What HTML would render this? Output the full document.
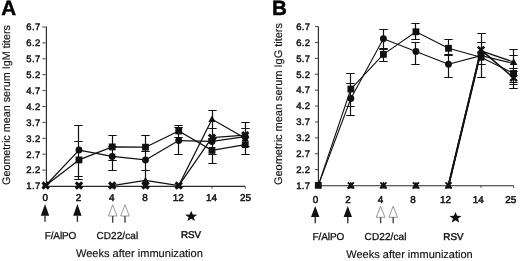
<!DOCTYPE html>
<html><head><meta charset="utf-8"><title>Figure</title>
<style>html,body{margin:0;padding:0;background:#fff}body{width:520px;height:261px;overflow:hidden;font-family:"Liberation Sans",sans-serif}</style>
</head><body>
<svg width="520" height="261" viewBox="0 0 520 261" text-rendering="geometricPrecision" style="display:block;opacity:0.999;will-change:transform;font-family:'Liberation Sans',sans-serif">
<rect width="520" height="261" fill="#fff"/>
<!-- panel A -->
<path d="M46.4 26.6V186.4H245.26" stroke="#2a2a2a" stroke-width="1.15" fill="none"/>
<path d="M42.3 186H45.7M42.3 170.1H45.7M42.3 154.2H45.7M42.3 138.3H45.7M42.3 122.4H45.7M42.3 106.5H45.7M42.3 90.6H45.7M42.3 74.7H45.7M42.3 58.8H45.7M42.3 42.9H45.7M42.3 27H45.7M78.96 186.4v2.2M112.22 186.4v2.2M145.48 186.4v2.2M178.74 186.4v2.2M212 186.4v2.2M245.26 186.4v2.2" stroke="#444" stroke-width="1" fill="none"/>
<path d="M78.5 125.5V176.5M74.3 125.5H82.7M74.3 176.5H82.7M78.5 141.5V179.5M74.3 141.5H82.7M74.3 179.5H82.7M112.5 135.5V160.5M108.3 135.5H116.7M108.3 160.5H116.7M112.5 146.5V170.5M108.3 146.5H116.7M108.3 170.5H116.7M145.5 135.5V151.5M141.3 135.5H149.7M141.3 151.5H149.7M145.5 151.5V170.5M141.3 151.5H149.7M141.3 170.5H149.7M145.5 170.5V186.5M141.3 170.5H149.7M141.3 186.5H149.7M178.5 125.5V137.5M174.3 125.5H182.7M174.3 137.5H182.7M178.5 127.5V154.5M174.3 127.5H182.7M174.3 154.5H182.7M212.5 110.5V128.5M208.3 110.5H216.7M208.3 128.5H216.7M212.5 128.5V154.5M208.3 128.5H216.7M208.3 154.5H216.7M212.5 138.5V163.5M208.3 138.5H216.7M208.3 163.5H216.7M245.5 122.5V146.5M241.3 122.5H249.7M241.3 146.5H249.7M245.5 128.5V154.5M241.3 128.5H249.7M241.3 154.5H249.7" stroke="#111" stroke-width="1.2" fill="none"/>
<path d="M45.7 185.52L78.96 150.07L112.22 156.43L145.48 159.92L178.74 140.53L212 141.48L245.26 136.71" stroke="#111" stroke-width="1.25" fill="none" stroke-linejoin="round"/>
<path d="M45.7 185.52L78.96 159.92L112.22 146.89L145.48 147.2L178.74 130.99L212 150.38L245.26 144.66" stroke="#111" stroke-width="1.25" fill="none" stroke-linejoin="round"/>
<path d="M112.22 185.52L145.48 180.28M145.48 180.28L178.74 185.52M178.74 185.52L212 119.22M212 119.22L245.26 138.3" stroke="#111" stroke-width="1.25" fill="none" stroke-linejoin="round"/>
<path d="M178.74 185.52L212 137.66M212 137.66L245.26 135.12" stroke="#111" stroke-width="1.25" fill="none" stroke-linejoin="round"/>
<g fill="#111"><circle cx="78.96" cy="150.07" r="3.45"/><circle cx="112.22" cy="156.43" r="3.45"/><circle cx="145.48" cy="159.92" r="3.45"/><circle cx="178.74" cy="140.53" r="3.45"/><circle cx="212" cy="141.48" r="3.45"/><circle cx="245.26" cy="136.71" r="3.45"/><rect x="75.56" y="156.52" width="6.8" height="6.8"/><rect x="108.82" y="143.49" width="6.8" height="6.8"/><rect x="142.08" y="143.8" width="6.8" height="6.8"/><rect x="175.34" y="127.59" width="6.8" height="6.8"/><rect x="208.6" y="146.98" width="6.8" height="6.8"/><rect x="241.86" y="141.26" width="6.8" height="6.8"/><path d="M145.48 176.68L149.08 183.16H141.88Z"/><path d="M212 115.62L215.6 122.1H208.4Z"/><path d="M245.26 134.7L248.86 141.18H241.66Z"/></g>
<path d="M42.55 182.37L48.85 188.67M48.85 182.37L42.55 188.67" stroke="#111" stroke-width="3.0" fill="none"/>
<path d="M75.81 182.37L82.11 188.67M82.11 182.37L75.81 188.67" stroke="#111" stroke-width="3.0" fill="none"/>
<path d="M109.07 182.37L115.37 188.67M115.37 182.37L109.07 188.67" stroke="#111" stroke-width="3.0" fill="none"/>
<path d="M142.33 182.37L148.63 188.67M148.63 182.37L142.33 188.67" stroke="#111" stroke-width="3.0" fill="none"/>
<path d="M175.59 182.37L181.89 188.67M181.89 182.37L175.59 188.67" stroke="#111" stroke-width="3.0" fill="none"/>
<path d="M208.85 134.51L215.15 140.81M215.15 134.51L208.85 140.81" stroke="#111" stroke-width="3.0" fill="none"/>
<path d="M242.11 131.97L248.41 138.27M248.41 131.97L242.11 138.27" stroke="#111" stroke-width="3.0" fill="none"/>
<!-- panel B -->
<path d="M318.4 26.6V185.7H513.6" stroke="#2a2a2a" stroke-width="1.15" fill="none"/>
<path d="M314.9 185.55H318.3M314.9 169.65H318.3M314.9 153.75H318.3M314.9 137.85H318.3M314.9 121.95H318.3M314.9 106.05H318.3M314.9 90.15H318.3M314.9 74.25H318.3M314.9 58.35H318.3M314.9 42.45H318.3M314.9 26.55H318.3M350.85 185.7v2.2M383.4 185.7v2.2M415.95 185.7v2.2M448.5 185.7v2.2M481.05 185.7v2.2M513.6 185.7v2.2" stroke="#444" stroke-width="1" fill="none"/>
<path d="M350.5 73.5V106.5M346.3 73.5H354.7M346.3 106.5H354.7M350.5 83.5V115.5M346.3 83.5H354.7M346.3 115.5H354.7M383.5 29.5V49.5M379.3 29.5H387.7M379.3 49.5H387.7M383.5 48.5V61.5M379.3 48.5H387.7M379.3 61.5H387.7M415.5 23.5V39.5M411.3 23.5H419.7M411.3 39.5H419.7M415.5 42.5V64.5M411.3 42.5H419.7M411.3 64.5H419.7M448.5 39.5V55.5M444.3 39.5H452.7M444.3 55.5H452.7M448.5 54.5V77.5M444.3 54.5H452.7M444.3 77.5H452.7M481.5 33.5V77.5M477.3 33.5H485.7M477.3 77.5H485.7M481.5 42.5V64.5M477.3 42.5H485.7M477.3 64.5H485.7M513.5 49.5V88.5M509.3 49.5H517.7M509.3 88.5H517.7M513.5 55.5V68.5M509.3 55.5H517.7M509.3 68.5H517.7M513.5 71.5V82.5M509.3 71.5H517.7M509.3 82.5H517.7M513.5 71.5V84.5M509.3 71.5H517.7M509.3 84.5H517.7" stroke="#111" stroke-width="1.2" fill="none"/>
<path d="M318.3 185.36L350.85 98.55L383.4 38.77L415.95 51.49L448.5 64.21L481.05 55.62L513.6 63.57" stroke="#111" stroke-width="1.1" fill="none" stroke-linejoin="round"/>
<path d="M318.3 185.36L350.85 89.01L383.4 54.35L415.95 31.77L448.5 48.31L481.05 57.21L513.6 73.43" stroke="#111" stroke-width="1.1" fill="none" stroke-linejoin="round"/>
<path d="M448.5 185.36L481.05 50.85M481.05 50.85L513.6 61.98" stroke="#111" stroke-width="1.2" fill="none" stroke-linejoin="round"/>
<path d="M448.5 185.36L481.05 49.9M481.05 49.9L513.6 77.88" stroke="#111" stroke-width="1.6" fill="none" stroke-linejoin="round"/>
<g fill="#111"><circle cx="350.85" cy="98.55" r="3.45"/><circle cx="383.4" cy="38.77" r="3.45"/><circle cx="415.95" cy="51.49" r="3.45"/><circle cx="448.5" cy="64.21" r="3.45"/><circle cx="481.05" cy="55.62" r="3.45"/><rect x="314.9" y="181.96" width="6.8" height="6.8"/><rect x="347.45" y="85.61" width="6.8" height="6.8"/><rect x="380" y="50.95" width="6.8" height="6.8"/><rect x="412.55" y="28.37" width="6.8" height="6.8"/><rect x="445.1" y="44.91" width="6.8" height="6.8"/><rect x="477.65" y="53.81" width="6.8" height="6.8"/><rect x="510.2" y="70.03" width="6.8" height="6.8"/><path d="M350.85 181.56L354.65 188.4H347.05Z"/><path d="M383.4 181.56L387.2 188.4H379.6Z"/><path d="M415.95 181.56L419.75 188.4H412.15Z"/><path d="M448.5 181.56L452.3 188.4H444.7Z"/><path d="M481.05 47.05L484.85 53.89H477.25Z"/><path d="M513.6 58.18L517.4 65.02H509.8Z"/></g>
<path d="M347.85 182.36L353.85 188.36M353.85 182.36L347.85 188.36" stroke="#111" stroke-width="2.0" fill="none"/>
<path d="M380.4 182.36L386.4 188.36M386.4 182.36L380.4 188.36" stroke="#111" stroke-width="2.0" fill="none"/>
<path d="M412.95 182.36L418.95 188.36M418.95 182.36L412.95 188.36" stroke="#111" stroke-width="2.0" fill="none"/>
<path d="M445.5 182.36L451.5 188.36M451.5 182.36L445.5 188.36" stroke="#111" stroke-width="2.0" fill="none"/>
<path d="M477.75 46.6L484.35 53.2M484.35 46.6L477.75 53.2" stroke="#111" stroke-width="2.6" fill="none"/>
<path d="M510.3 74.58L516.9 81.18M516.9 74.58L510.3 81.18" stroke="#111" stroke-width="2.6" fill="none"/>
<path d="M448.5 185.4L481.05 50.53" stroke="#111" stroke-width="2" fill="none"/>
<g font-size="9.5" letter-spacing="0.35" fill="#111" stroke="#111" stroke-width="0.45">
<text x="40.6" y="189.3" text-anchor="end">1.7</text><text x="40.6" y="173.4" text-anchor="end">2.2</text><text x="40.6" y="157.5" text-anchor="end">2.7</text><text x="40.6" y="141.6" text-anchor="end">3.2</text><text x="40.6" y="125.7" text-anchor="end">3.7</text><text x="40.6" y="109.8" text-anchor="end">4.2</text><text x="40.6" y="93.9" text-anchor="end">4.7</text><text x="40.6" y="78" text-anchor="end">5.2</text><text x="40.6" y="62.1" text-anchor="end">5.7</text><text x="40.6" y="46.2" text-anchor="end">6.2</text><text x="40.6" y="30.3" text-anchor="end">6.7</text>
<text x="310.5" y="188.85" text-anchor="end">1.7</text><text x="310.5" y="172.95" text-anchor="end">2.2</text><text x="310.5" y="157.05" text-anchor="end">2.7</text><text x="310.5" y="141.15" text-anchor="end">3.2</text><text x="310.5" y="125.25" text-anchor="end">3.7</text><text x="310.5" y="109.35" text-anchor="end">4.2</text><text x="310.5" y="93.45" text-anchor="end">4.7</text><text x="310.5" y="77.55" text-anchor="end">5.2</text><text x="310.5" y="61.65" text-anchor="end">5.7</text><text x="310.5" y="45.75" text-anchor="end">6.2</text><text x="310.5" y="29.85" text-anchor="end">6.7</text>
</g>
<g font-size="9.9" fill="#111" stroke="#111" stroke-width="0.5">
<text x="45.2" y="200.6" text-anchor="middle">0</text><text x="78.46" y="200.6" text-anchor="middle">2</text><text x="111.72" y="200.6" text-anchor="middle">4</text><text x="144.98" y="200.6" text-anchor="middle">8</text><text x="178.24" y="200.6" text-anchor="middle">12</text><text x="211.5" y="200.6" text-anchor="middle">14</text><text x="245.56" y="200.6" text-anchor="middle">25</text>
<text x="315.4" y="203.0" text-anchor="middle">0</text><text x="347.95" y="203.0" text-anchor="middle">2</text><text x="380.5" y="203.0" text-anchor="middle">4</text><text x="413.05" y="203.0" text-anchor="middle">8</text><text x="445.6" y="203.0" text-anchor="middle">12</text><text x="478.15" y="203.0" text-anchor="middle">14</text><text x="510.7" y="203.0" text-anchor="middle">25</text>
</g>
<g font-size="10" fill="#111" stroke="#111" stroke-width="0.3">
<text x="60.5" y="238.5" text-anchor="middle" textLength="31.7">F/AlPO</text>
<text x="117.3" y="238.5" text-anchor="middle" textLength="41.8">CD22/cal</text>
<text x="191" y="238.1" text-anchor="middle" font-size="9.8" stroke-width="0.45">RSV</text>
<text x="328.4" y="240" text-anchor="middle" textLength="31.7">F/AlPO</text>
<text x="385.5" y="240" text-anchor="middle" textLength="41.8">CD22/cal</text>
<text x="453.4" y="239.7" text-anchor="middle" font-size="9.8" stroke-width="0.45">RSV</text>
</g>
<g font-size="11" fill="#111" stroke="#111" stroke-width="0.15">
<text x="139.4" y="256.8" text-anchor="middle" textLength="127" lengthAdjust="spacingAndGlyphs">Weeks after immunization</text>
<text x="409.5" y="257.9" text-anchor="middle" textLength="126.5" lengthAdjust="spacingAndGlyphs">Weeks after immunization</text>
<text transform="translate(9.6 185) rotate(-90)" textLength="160" lengthAdjust="spacingAndGlyphs">Geometric mean serum IgM titers</text>
<text transform="translate(281.8 185) rotate(-90)" textLength="162" lengthAdjust="spacingAndGlyphs">Geometric mean serum IgG titers</text>
</g>
<g font-size="20.6" font-weight="bold" fill="#000" stroke="#000" stroke-width="0.45">
<text x="1.2" y="15.1">A</text>
<text x="271.9" y="15.4">B</text>
</g>
<path d="M45 204.0L49.2 215.7H40.8Z" fill="#111"/><path d="M45 215.7V221.8" stroke="#222" stroke-width="1.3"/>
<path d="M77.4 204.0L81.6 215.7H73.2Z" fill="#111"/><path d="M77.4 215.7V221.8" stroke="#222" stroke-width="1.3"/>
<path d="M112.7 204.8L117 216.0H108.4Z" fill="#fff" stroke="#777" stroke-width="0.75" stroke-linejoin="miter"/><path d="M112.7 216.0V222.7" stroke="#444" stroke-width="1.4"/>
<path d="M125 204.8L129.3 216.0H120.7Z" fill="#fff" stroke="#777" stroke-width="0.75" stroke-linejoin="miter"/><path d="M125 216.0V222.7" stroke="#444" stroke-width="1.4"/>
<path d="M191.2 210.7L192.78 214.46L197.29 214.64L193.76 217.14L194.96 221.01L191.2 218.79L187.44 221.01L188.64 217.14L185.11 214.64L189.62 214.46Z" fill="#111"/>
<path d="M315.2 206.0L319.4 217.1H311Z" fill="#111"/><path d="M315.2 217.1V223.3" stroke="#222" stroke-width="1.3"/>
<path d="M347.8 206.0L352 217.1H343.6Z" fill="#111"/><path d="M347.8 217.1V223.3" stroke="#222" stroke-width="1.3"/>
<path d="M380.6 206.2L384.9 217.3H376.3Z" fill="#fff" stroke="#777" stroke-width="0.75" stroke-linejoin="miter"/><path d="M380.6 217.3V223.3" stroke="#444" stroke-width="1.4"/>
<path d="M393.2 206.2L397.5 217.3H388.9Z" fill="#fff" stroke="#777" stroke-width="0.75" stroke-linejoin="miter"/><path d="M393.2 217.3V223.3" stroke="#444" stroke-width="1.4"/>
<path d="M455.5 212.1L457.08 215.86L461.59 216.04L458.06 218.54L459.26 222.41L455.5 220.19L451.74 222.41L452.94 218.54L449.41 216.04L453.92 215.86Z" fill="#111"/>
</svg>
</body></html>
